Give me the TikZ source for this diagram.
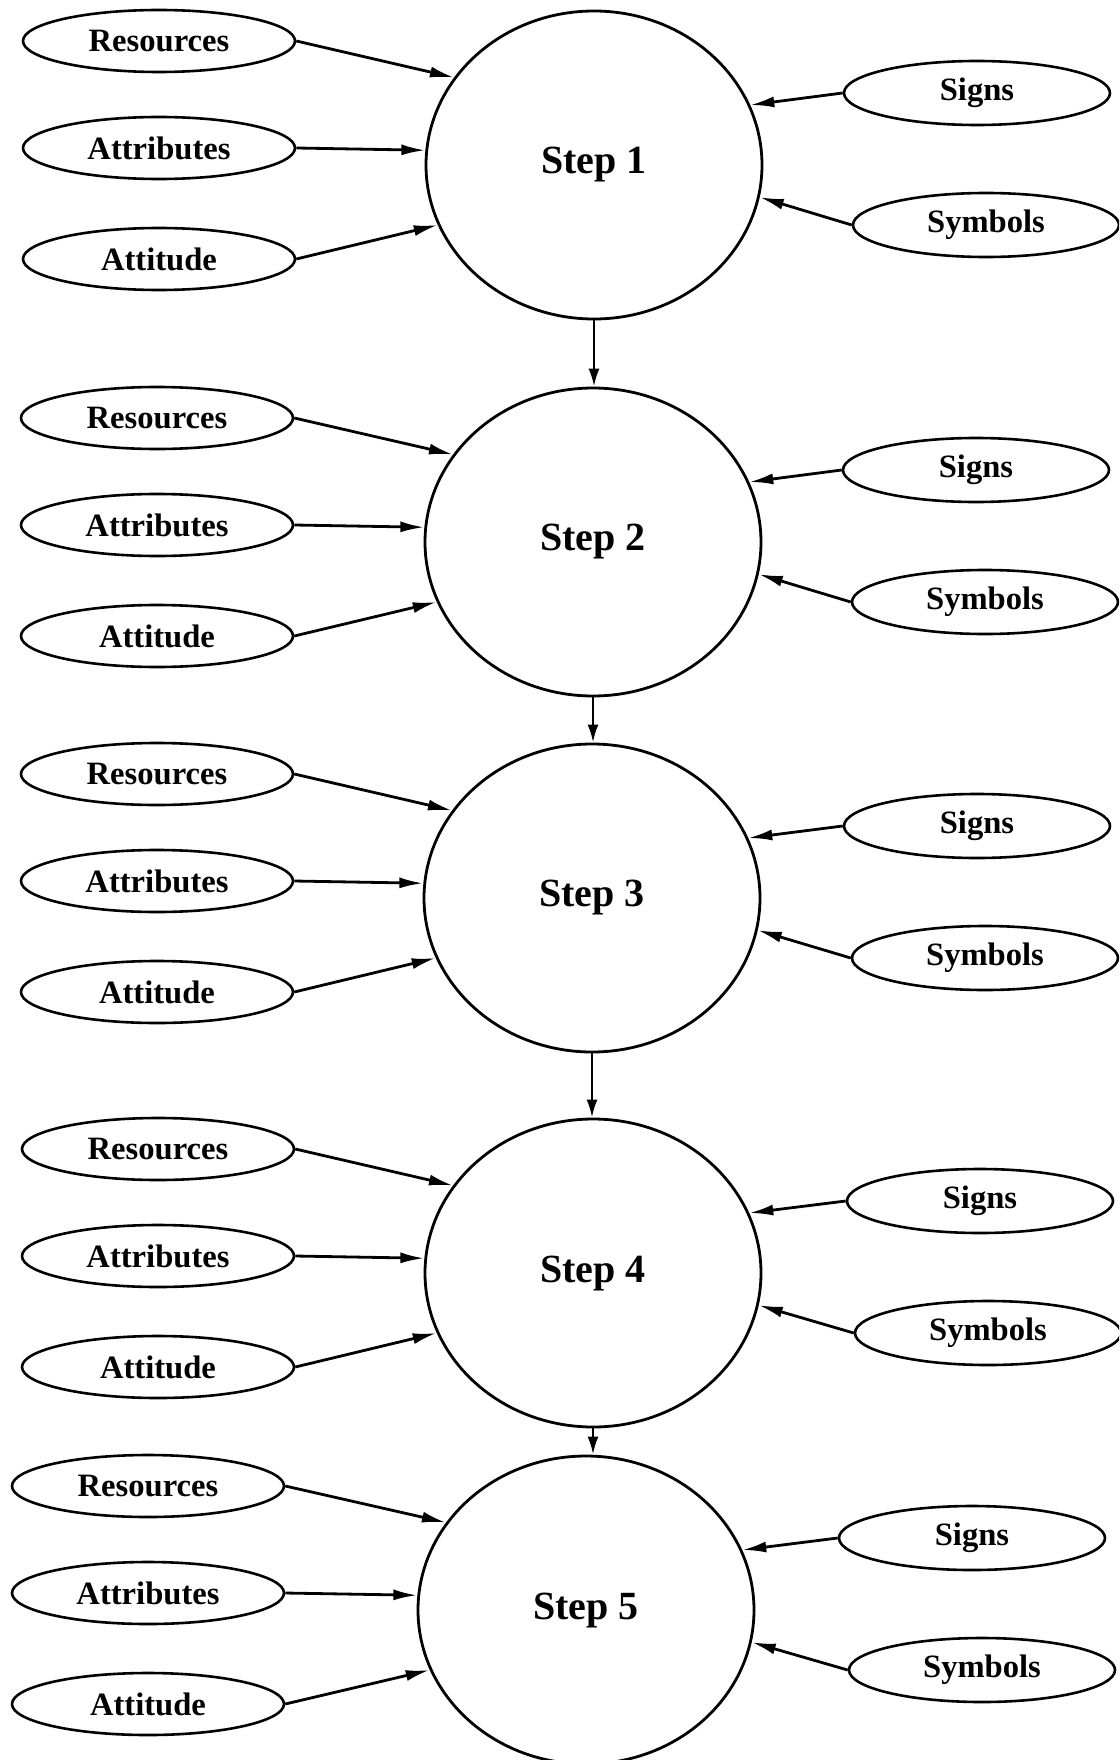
\documentclass[tikz,border=0pt]{standalone}
\usepackage{fontspec}
\setmainfont{Liberation Serif}
\usetikzlibrary{shapes.geometric,arrows.meta}
\begin{document}
\begin{tikzpicture}[x=0.5pt,y=-0.5pt,
  stepnode/.style={ellipse,draw,line width=1.4pt,inner sep=0pt,minimum width=168pt,minimum height=154pt,
    font=\fontsize{20}{24}\selectfont\bfseries},
  inbox/.style={ellipse,draw,line width=1.3pt,inner sep=0pt,minimum width=136pt,minimum height=31pt,
    font=\fontsize{16.3}{19}\selectfont\bfseries},
  outbox/.style={ellipse,draw,line width=1.3pt,inner sep=0pt,minimum width=133pt,minimum height=32pt,
    font=\fontsize{16.3}{19}\selectfont\bfseries},
  inarrow/.style={line width=1.4pt,-{Latex[length=12pt,width=5.5pt]}},
  steparrow/.style={line width=1.3pt,-{Latex[length=9pt,width=5.5pt]}}
]
\useasboundingbox (0,0) rectangle (1119,1760);
\clip (0,0) rectangle (1119,1760);
\foreach \i/\cx/\cy/\lx/\sx/\yx in {1/594/165/159/977/986, 2/593/542/157/976/985, 3/592/898/157/977/985, 4/593/1273/158/980/988, 5/586/1610/148/972/982}{
  \node[stepnode] (step\i) at (\cx,\cy) {Step \i};
  \node[inbox] (res\i) at (\lx,{\cy-124}) {Resources};
  \node[inbox] (attr\i) at (\lx,{\cy-17}) {Attributes};
  \node[inbox] (att\i) at (\lx,{\cy+94}) {Attitude};
  \node[outbox] (sig\i) at (\sx,{\cy-72}) {Signs};
  \node[outbox] (sym\i) at (\yx,{\cy+60}) {Symbols};
  \draw[inarrow] (res\i.east) -- (step\i.148);
  \draw[inarrow] (attr\i.east) -- (step\i.175.5);
  \draw[inarrow] (att\i.east) -- (step\i.201);
  \draw[inarrow] (sig\i.west) -- (step\i.21);
  \draw[inarrow] (sym\i.west) -- (step\i.-11);
}
\foreach \a/\b in {1/2,2/3,3/4,4/5}{
  \draw[steparrow] (step\a.south) -- (step\a.south |- step\b.north);
}
\end{tikzpicture}
\end{document}
